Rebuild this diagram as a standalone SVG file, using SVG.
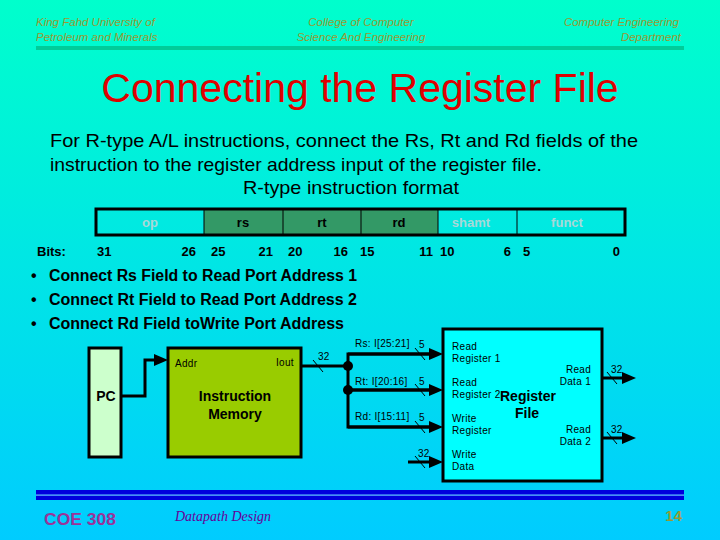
<svg xmlns="http://www.w3.org/2000/svg" width="720" height="540" viewBox="0 0 720 540">
<defs>
<linearGradient id="bg" x1="0" y1="0" x2="0" y2="1">
<stop offset="0" stop-color="#00FFCC"/>
<stop offset="1" stop-color="#00CCFF"/>
</linearGradient>
<marker id="arr" viewBox="0 0 14 12" refX="8" refY="6" markerWidth="14" markerHeight="12" markerUnits="userSpaceOnUse" orient="auto">
<path d="M0,0 L14,6 L0,12 z" fill="#000"/>
</marker>
</defs>
<style>
.hdr{font-family:"Liberation Sans",Arial,sans-serif;font-style:italic;font-size:11.5px;fill:#999933}
.body{font-family:"Liberation Sans",Arial,sans-serif;font-size:19px;fill:#000}
.bul{font-family:"Liberation Sans",Arial,sans-serif;font-size:16px;font-weight:bold;fill:#000}
.fld{font-family:"Liberation Sans",Arial,sans-serif;font-size:13px;font-weight:bold;text-anchor:middle}
.bits{font-family:"Liberation Sans",Arial,sans-serif;font-size:13px;font-weight:bold;fill:#000}
.sm{font-family:"Liberation Sans",Arial,sans-serif;font-size:10px;fill:#000;letter-spacing:0.3px}
.bold14{font-family:"Liberation Sans",Arial,sans-serif;font-size:14px;font-weight:bold;fill:#000;text-anchor:middle}
.wire{fill:none;stroke:#000;stroke-width:3}
.slash{stroke:#000;stroke-width:1}
.box{stroke:#000;stroke-width:3}
</style>
<rect x="0" y="0" width="720" height="540" fill="url(#bg)"/>

<g id="header">
<text class="hdr" x="36" y="26">King Fahd University of</text>
<text class="hdr" x="36" y="41">Petroleum and Minerals</text>
<text class="hdr" x="361" y="26" text-anchor="middle">College of Computer</text>
<text class="hdr" x="361" y="41" text-anchor="middle">Science And Engineering</text>
<text class="hdr" x="679" y="26" text-anchor="end">Computer Engineering</text>
<text class="hdr" x="681" y="41" text-anchor="end">Department</text>
<rect x="36" y="46" width="648" height="4" fill="#00CC99"/>
</g>

<text id="title" x="360" y="102" text-anchor="middle" font-family="'Liberation Sans',Arial,sans-serif" font-size="41" fill="#E00000">Connecting the Register File</text>

<g id="intro">
<text class="body" x="50" y="147" textLength="588" lengthAdjust="spacingAndGlyphs">For R-type A/L instructions, connect the Rs, Rt and Rd fields of the</text>
<text class="body" x="50" y="171" textLength="492" lengthAdjust="spacingAndGlyphs">instruction to the register address input of the register file.</text>
<text class="body" x="243" y="194" textLength="216" lengthAdjust="spacingAndGlyphs">R-type instruction format</text>
</g>

<g id="format">
<rect x="204" y="209" width="234" height="26" fill="#339966"/>
<g stroke="#000" stroke-width="1">
<line x1="204" y1="209" x2="204" y2="235"/>
<line x1="283" y1="209" x2="283" y2="235"/>
<line x1="361" y1="209" x2="361" y2="235"/>
<line x1="438" y1="209" x2="438" y2="235"/>
<line x1="517" y1="209" x2="517" y2="235"/>
</g>
<rect x="96" y="209" width="529" height="26" fill="none" stroke="#000" stroke-width="3"/>
<text class="fld" x="150" y="227" fill="#A8D8D8">op</text>
<text class="fld" x="243" y="227" fill="#000">rs</text>
<text class="fld" x="322" y="227" fill="#000">rt</text>
<text class="fld" x="399" y="227" fill="#000">rd</text>
<text class="fld" x="471" y="227" fill="#A8D8D8">shamt</text>
<text class="fld" x="567" y="227" fill="#A8D8D8">funct</text>
<text class="bits" x="37" y="256">Bits:</text>
<text class="bits" x="97" y="256">31</text>
<text class="bits" x="196" y="256" text-anchor="end">26</text>
<text class="bits" x="211" y="256">25</text>
<text class="bits" x="273" y="256" text-anchor="end">21</text>
<text class="bits" x="288" y="256">20</text>
<text class="bits" x="348" y="256" text-anchor="end">16</text>
<text class="bits" x="360" y="256">15</text>
<text class="bits" x="433" y="256" text-anchor="end">11</text>
<text class="bits" x="440" y="256">10</text>
<text class="bits" x="511" y="256" text-anchor="end">6</text>
<text class="bits" x="523" y="256">5</text>
<text class="bits" x="620" y="256" text-anchor="end">0</text>
</g>

<g id="bullets">
<text class="bul" x="31" y="281">•</text>
<text class="bul" x="49" y="281" textLength="308" lengthAdjust="spacingAndGlyphs">Connect Rs Field to Read Port Address 1</text>
<text class="bul" x="31" y="305">•</text>
<text class="bul" x="49" y="305" textLength="308" lengthAdjust="spacingAndGlyphs">Connect Rt Field to Read Port Address 2</text>
<text class="bul" x="31" y="329">•</text>
<text class="bul" x="49" y="329" textLength="295" lengthAdjust="spacingAndGlyphs">Connect Rd Field toWrite Port Address</text>
</g>

<g id="pc">
<rect class="box" x="89" y="348" width="32" height="109" fill="#CCFFCC"/>
<text class="bold14" x="106" y="401" font-size="13">PC</text>
</g>

<g id="imem">
<rect class="box" x="168" y="348" width="133" height="109" fill="#99CC00"/>
<text class="sm" x="175" y="367">Addr</text>
<text class="sm" x="276" y="366">Iout</text>
<text class="bold14" x="235" y="401">Instruction</text>
<text class="bold14" x="235" y="419">Memory</text>
</g>

<g id="regfile">
<rect class="box" x="443" y="329" width="159" height="152" fill="#00FFFF"/>
<text class="sm" x="452" y="350">Read</text>
<text class="sm" x="452" y="362">Register 1</text>
<text class="sm" x="452" y="386">Read</text>
<text class="sm" x="452" y="398">Register 2</text>
<text class="sm" x="452" y="422">Write</text>
<text class="sm" x="452" y="434">Register</text>
<text class="sm" x="452" y="458">Write</text>
<text class="sm" x="452" y="470">Data</text>
<text class="sm" x="591" y="373" text-anchor="end">Read</text>
<text class="sm" x="591" y="385" text-anchor="end">Data 1</text>
<text class="sm" x="591" y="433" text-anchor="end">Read</text>
<text class="sm" x="591" y="445" text-anchor="end">Data 2</text>
<text class="bold14" x="528" y="401">Register</text>
<text class="bold14" x="527" y="418">File</text>
</g>

<g id="connectors">
<polyline class="wire" points="121,396 145,396 145,360 162,360" marker-end="url(#arr)"/>
<polyline class="wire" points="301,366 348,366"/>
<polyline class="wire" points="437,354 348,354 348,427 437,427"/>
<line class="wire" x1="348" y1="390" x2="437" y2="390"/>
<line class="wire" x1="348" y1="354" x2="437" y2="354" marker-end="url(#arr)"/>
<line class="wire" x1="348" y1="390" x2="437" y2="390" marker-end="url(#arr)"/>
<line class="wire" x1="348" y1="427" x2="437" y2="427" marker-end="url(#arr)"/>
<line class="wire" x1="408" y1="462" x2="437" y2="462" marker-end="url(#arr)"/>
<line class="wire" x1="602" y1="378" x2="630" y2="378" marker-end="url(#arr)"/>
<line class="wire" x1="602" y1="438" x2="630" y2="438" marker-end="url(#arr)"/>
<circle cx="348" cy="366" r="5" fill="#000"/>
<circle cx="348" cy="390" r="5" fill="#000"/>
<line class="slash" x1="313" y1="360" x2="323" y2="372"/>
<line class="slash" x1="415" y1="348" x2="425" y2="360"/>
<line class="slash" x1="415" y1="384" x2="425" y2="396"/>
<line class="slash" x1="415" y1="421" x2="425" y2="433"/>
<line class="slash" x1="415" y1="456" x2="425" y2="468"/>
<line class="slash" x1="607" y1="372" x2="617" y2="384"/>
<line class="slash" x1="607" y1="432" x2="617" y2="444"/>
<text class="sm" x="318" y="360">32</text>
<text class="sm" x="355" y="347">Rs: I[25:21]</text>
<text class="sm" x="419" y="348">5</text>
<text class="sm" x="355" y="385">Rt: I[20:16]</text>
<text class="sm" x="419" y="385">5</text>
<text class="sm" x="355" y="420">Rd: I[15:11]</text>
<text class="sm" x="419" y="421">5</text>
<text class="sm" x="418" y="457">32</text>
<text class="sm" x="611" y="373">32</text>
<text class="sm" x="611" y="433">32</text>
</g>

<g id="footer">
<rect x="36" y="490" width="648" height="10" fill="#0000DD"/>
<rect x="36" y="494.5" width="648" height="1.2" fill="#66CCFF"/>
<text x="44" y="525" font-family="'Liberation Sans',Arial,sans-serif" font-size="16" font-weight="bold" fill="#993399" textLength="72" lengthAdjust="spacingAndGlyphs">COE 308</text>
<text x="175" y="521" font-family="'Liberation Serif','Times New Roman',serif" font-size="14" font-style="italic" fill="#660099">Datapath Design</text>
<text x="682" y="521" text-anchor="end" font-family="'Liberation Sans',Arial,sans-serif" font-size="15" font-weight="bold" fill="#999933">14</text>
</g>
</svg>
